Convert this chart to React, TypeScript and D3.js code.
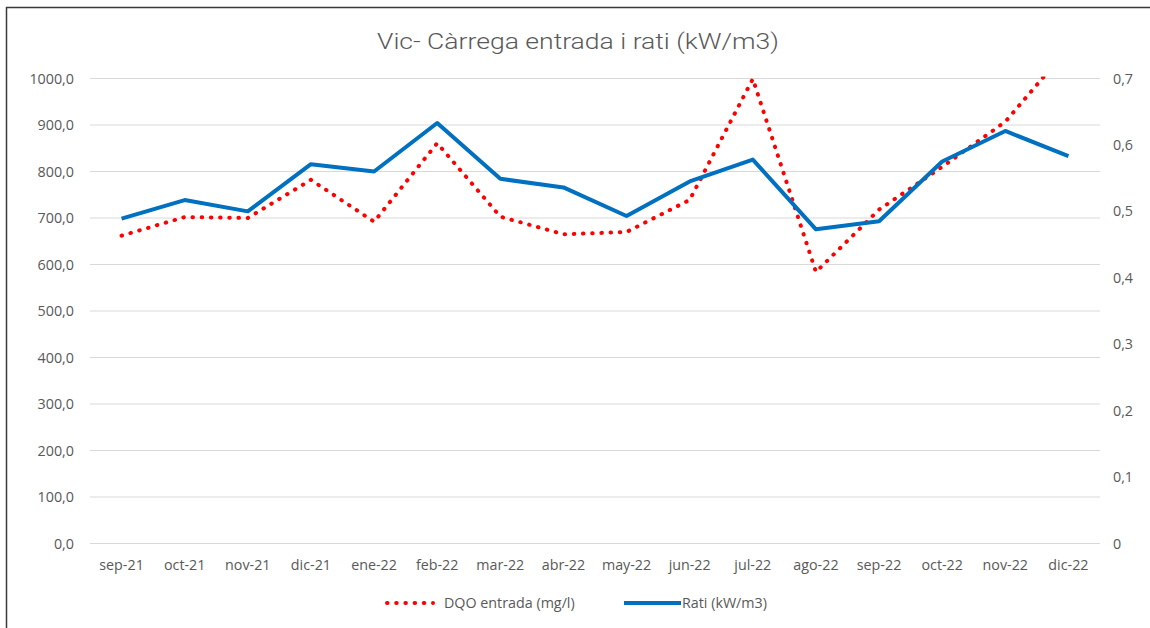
import React from "react";
import * as d3 from "d3";

const categories = ["sep-21","oct-21","nov-21","dic-21","ene-22","feb-22","mar-22","abr-22","may-22","jun-22","jul-22","ago-22","sep-22","oct-22","nov-22","dic-22"];
const dqoValues = [662, 702, 700, 782, 692, 861, 703, 665, 670, 739, 999, 584, 718, 810, 907, 1066];
const ratiValues = [0.489, 0.517, 0.500, 0.571, 0.560, 0.633, 0.549, 0.536, 0.493, 0.545, 0.578, 0.473, 0.485, 0.575, 0.621, 0.583];
const leftTicks = [0, 100, 200, 300, 400, 500, 600, 700, 800, 900, 1000];
const rightTicks = [0, 0.1, 0.2, 0.3, 0.4, 0.5, 0.6, 0.7];
const title = "Vic- Càrrega entrada i rati (kW/m3)";
const seriesNames = ["DQO entrada (mg/l)", "Rati (kW/m3)"];

const W = 1150, H = 628;
const plot = { left: 90, right: 1100, top: 78.5, bottom: 543.5 };
const txt = "#595959";
const font = "'Open Sans', 'Noto Sans', sans-serif";
const fs = 14.3;

export default function App() {
  const x = d3.scaleBand<string>().domain(categories).range([plot.left, plot.right]);
  const cx = (c: string) => (x(c) as number) + x.bandwidth() / 2;
  const yL = d3.scaleLinear().domain([0, 1000]).range([plot.bottom, plot.top]);
  const yR = d3.scaleLinear().domain([0, 0.7]).range([plot.bottom, plot.top]);
  const fmt1 = (v: number) => v.toFixed(1).replace(".", ",");
  const fmtR = (v: number) => (v === 0 ? "0" : v.toFixed(1).replace(".", ","));

  const redLine = d3.line<number>().x((_, i) => cx(categories[i])).y((d) => yL(d))(dqoValues) || "";
  const blueLine = d3.line<number>().x((_, i) => cx(categories[i])).y((d) => yR(d))(ratiValues) || "";

  return (
    <svg width={W} height={H} style={{ position: "fixed", left: 0, top: 0, background: "#fff" }} fontFamily={font}>
      <defs>
        <clipPath id="pa">
          <rect x={plot.left} y={plot.top - 2} width={plot.right - plot.left} height={plot.bottom - plot.top + 4} />
        </clipPath>
      </defs>
      <rect x={0} y={0} width={W} height={H} fill="#fff" />
      <line x1={6.5} y1={7} x2={6.5} y2={H} stroke="#3a3a3a" strokeWidth={1.5} />
      <line x1={6} y1={7.5} x2={W} y2={7.5} stroke="#3a3a3a" strokeWidth={1.5} />
      <text x={578} y={49} textAnchor="middle" fill={txt} fontSize={22} fontWeight={300} fontFamily="Roboto, 'Open Sans', sans-serif" textLength={402} lengthAdjust="spacingAndGlyphs">{title}</text>
      {leftTicks.map((t) => (
        <g key={t}>
          <line x1={plot.left} x2={plot.right} y1={yL(t)} y2={yL(t)} stroke="#d9d9d9" strokeWidth={1} />
          <text x={74} y={yL(t) + 5} textAnchor="end" fill={txt} fontSize={fs}>{fmt1(t)}</text>
        </g>
      ))}
      {rightTicks.map((t) => (
        <text key={t} x={1113} y={yR(t) + 5} textAnchor="start" fill={txt} fontSize={fs}>{fmtR(t)}</text>
      ))}
      {categories.map((c) => (
        <text key={c} x={cx(c)} y={570} textAnchor="middle" fill={txt} fontSize={fs}>{c}</text>
      ))}
      <g clipPath="url(#pa)">
        <path d={redLine} fill="none" stroke="#ff0000" strokeWidth={4} strokeLinecap="round" strokeDasharray="0.5 8.7" />
        <path d={blueLine} fill="none" stroke="#0070c0" strokeWidth={4} strokeLinejoin="round" />
      </g>
      <line x1={387} x2={433} y1={603} y2={603} stroke="#ff0000" strokeWidth={4} strokeLinecap="round" strokeDasharray="0.5 8.7" />
      <text x={444} y={608} fill={txt} fontSize={fs}>{seriesNames[0]}</text>
      <line x1={624} x2={681} y1={603} y2={603} stroke="#0070c0" strokeWidth={4} />
      <text x={682} y={608} fill={txt} fontSize={fs}>{seriesNames[1]}</text>
    </svg>
  );
}
